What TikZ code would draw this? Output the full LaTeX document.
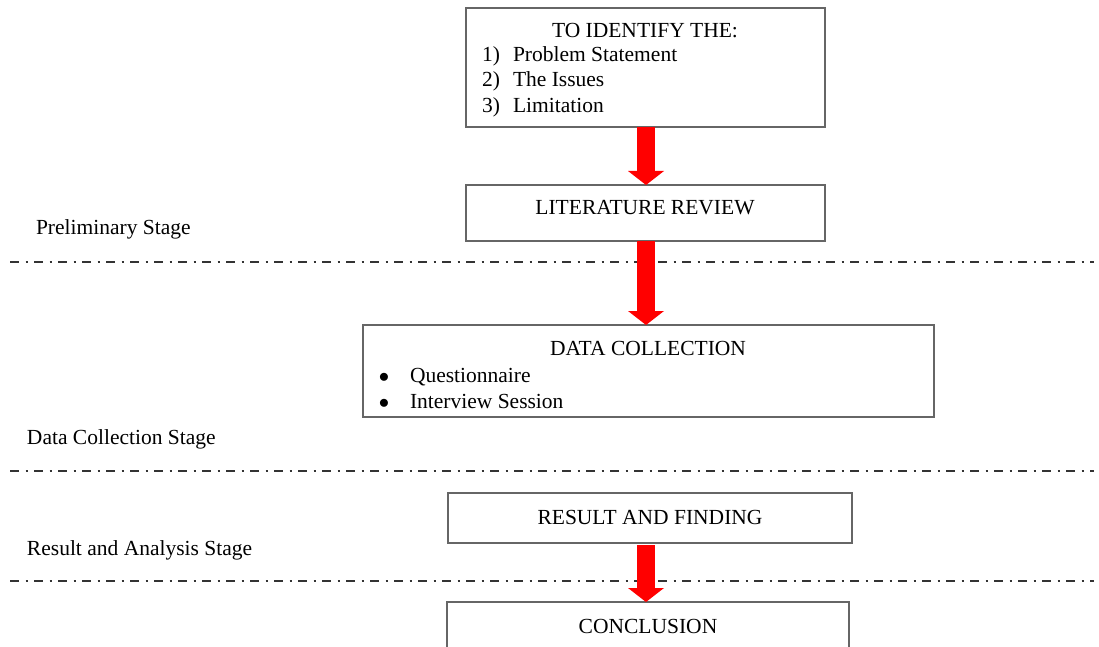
\documentclass[tikz,border=0pt]{standalone}
\usepackage{fontspec}
\setmainfont{Liberation Serif}
\usetikzlibrary{arrows.meta}
\begin{document}
\begin{tikzpicture}[x=1pt,y=-1pt,
  box/.style={draw=black!60, line width=1.6pt, anchor=north west, inner sep=0pt, outer sep=0pt},
  txt/.style={inner sep=0pt, outer sep=0pt, anchor=base, font=\fontsize{21.5}{25}\selectfont},
  txtl/.style={txt, anchor=base west},
  flow/.style={red, line width=18pt, -{Triangle[width=36pt,length=14pt,line width=0pt]}},
  stageline/.style={black!80, line width=2.2pt, dash pattern=on 8.5pt off 7pt on 2.5pt off 6pt}]
  \clip (0,0) rectangle (1099,647);

  % stage boxes
  \node[box, minimum width=359pt, minimum height=119pt] (b1) at (466,8) {};
  \node[box, minimum width=359pt, minimum height=56pt]  (b2) at (466,185) {};
  \node[box, minimum width=571pt, minimum height=92pt]  (b3) at (363,325) {};
  \node[box, minimum width=404pt, minimum height=50pt]  (b4) at (448,493) {};
  \node[box, minimum width=402pt, minimum height=70pt]  (b5) at (447,602) {};

  % box texts
  \node[txt]  (t1)  at (645,38)  {TO IDENTIFY THE:};
  \node[txtl] (n1)  at (482,62)  {1)};
  \node[txtl] (l1)  at (513,62)  {Problem Statement};
  \node[txtl] (n2)  at (482,87)  {2)};
  \node[txtl] (l2)  at (513,87)  {The Issues};
  \node[txtl] (n3)  at (482,113) {3)};
  \node[txtl] (l3)  at (513,113) {Limitation};
  \node[txt]  (t2)  at (645,214) {LITERATURE REVIEW};
  \node[txt]  (t3)  at (648,355) {DATA COLLECTION};
  \node[txt]  (bu1) at (384,382) {$\bullet$};
  \node[txtl] (q1)  at (410,382) {Questionnaire};
  \node[txt]  (bu2) at (384,408) {$\bullet$};
  \node[txtl] (q2)  at (410,408) {Interview Session};
  \node[txt]  (t4)  at (650,524) {RESULT AND FINDING};
  \node[txt]  (t5)  at (648,633) {CONCLUSION};

  % stage labels
  \node[txtl] (s1) at (36,234) {Preliminary Stage};
  \node[txtl] (s2) at (27,444) {Data Collection Stage};
  \node[txtl] (s3) at (27,555) {Result and Analysis Stage};

  % stage separators
  \coordinate (d1l) at (10,262);  \coordinate (d1r) at (1094,262);
  \coordinate (d2l) at (10,471);  \coordinate (d2r) at (1094,471);
  \coordinate (d3l) at (10,581);  \coordinate (d3r) at (1094,581);
  \draw[stageline] (d1l) -- (d1r);
  \draw[stageline] (d2l) -- (d2r);
  \draw[stageline] (d3l) -- (d3r);

  % flow arrows
  \coordinate (ax) at (646,0);
  \draw[flow] (b1.south -| ax) -- (b2.north -| ax);
  \draw[flow] (b2.south -| ax) -- (b3.north -| ax);
  \draw[flow] ([yshift=-2pt]b4.south -| ax) -- (b5.north -| ax);
\end{tikzpicture}
\end{document}
